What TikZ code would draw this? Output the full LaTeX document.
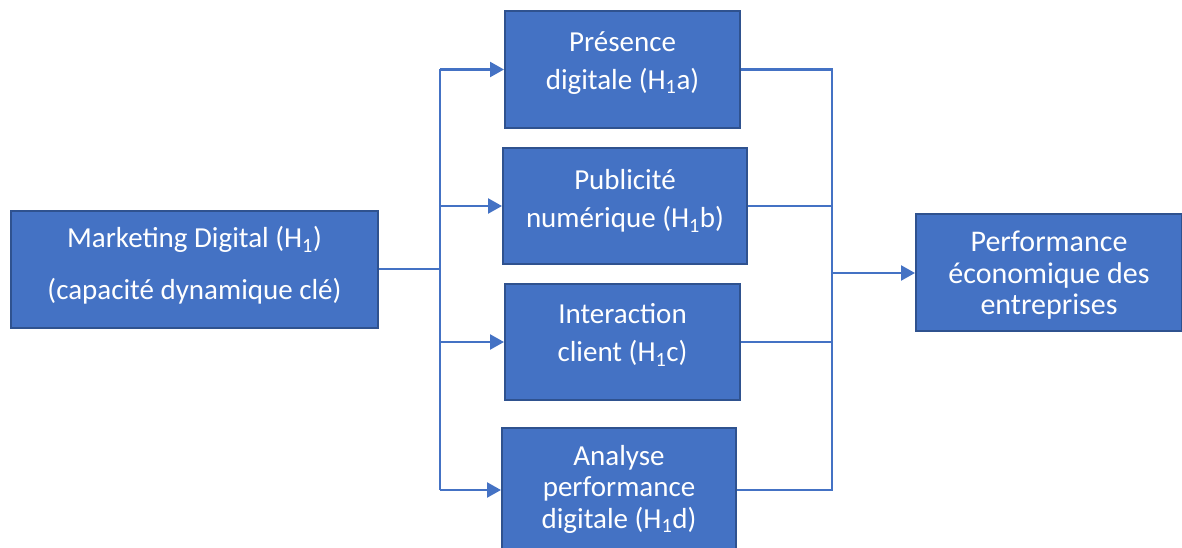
\documentclass[tikz,border=0pt]{standalone}
\usepackage{fontspec}
\setmainfont{Carlito}
\usetikzlibrary{arrows.meta}
\definecolor{boxfill}{HTML}{4472C4}
\definecolor{boxline}{HTML}{2F528F}
\definecolor{conn}{HTML}{4472C4}
\newcommand{\Hsub}{H\textsubscript{1}}
\begin{document}
\begin{tikzpicture}[x=1pt,y=-1pt,
  box/.style={draw=boxline,fill=boxfill,line width=2pt,inner sep=0pt},
  txt/.style={text=white,align=center,inner sep=0pt},
  two/.style={txt,font=\fontsize{29}{38}\selectfont},
  three/.style={txt,font=\fontsize{29}{31.5}\selectfont},
  wire/.style={draw=conn,line width=2.4pt},
  arrow/.style={wire,-{Triangle[length=14pt,width=15pt]}}
]
\useasboundingbox (0,0) rectangle (1182,548);
% boxes
\node[box,minimum width=367pt,minimum height=117pt] (mk) at (194.5,269.5) {};
\node[box,minimum width=235pt,minimum height=117pt] (pres) at (622.5,69.5) {};
\node[box,minimum width=244pt,minimum height=116pt] (pub) at (625,206) {};
\node[box,minimum width=235pt,minimum height=116pt] (inter) at (622.5,342) {};
\node[box,minimum width=234pt,minimum height=124pt] (ana) at (619,490) {};
\node[box,minimum width=266pt,minimum height=117pt] (perf) at (1049,272.5) {};
% texts
\node[txt,font=\fontsize{29}{52}\selectfont] (mk-t) at ([yshift=4pt]mk.center) {Marketing Digital (\Hsub)\\(capacité dynamique clé)};
\node[two] (pres-t) at ([yshift=6.5pt]pres.center) {Présence\\digitale (\Hsub a)};
\node[two] (pub-t) at ([yshift=5pt]pub.center) {Publicité\\numérique (\Hsub b)};
\node[two] (inter-t) at ([yshift=7pt]inter.center) {Interaction\\client (\Hsub c)};
\node[three] (ana-t) at ([yshift=1pt]ana.center) {Analyse\\performance\\digitale (\Hsub d)};
\node[three,font=\fontsize{30}{31.5}\selectfont] (perf-t) at ([yshift=-3pt]perf.center) {Performance\\économique des\\entreprises};
% connectors
\coordinate (L) at (440,269);
\coordinate (R) at (832,273);
\draw[wire] (mk.east |- L) -- (L);
\draw[wire] (L |- pres.west) -- (L |- ana.west);
\draw[arrow] (L |- pres.west) -- (pres.west);
\draw[arrow] (L |- pub.west) -- (pub.west);
\draw[arrow] (L |- inter.west) -- (inter.west);
\draw[arrow] (L |- ana.west) -- (ana.west);
\draw[wire] (pres.east) -- (R |- pres.east) -- (R |- ana.east) -- (ana.east);
\draw[wire] (pub.east) -- (R |- pub.east);
\draw[wire] (inter.east) -- (R |- inter.east);
\draw[arrow] (R) -- (perf.west |- R);
\end{tikzpicture}
\end{document}
